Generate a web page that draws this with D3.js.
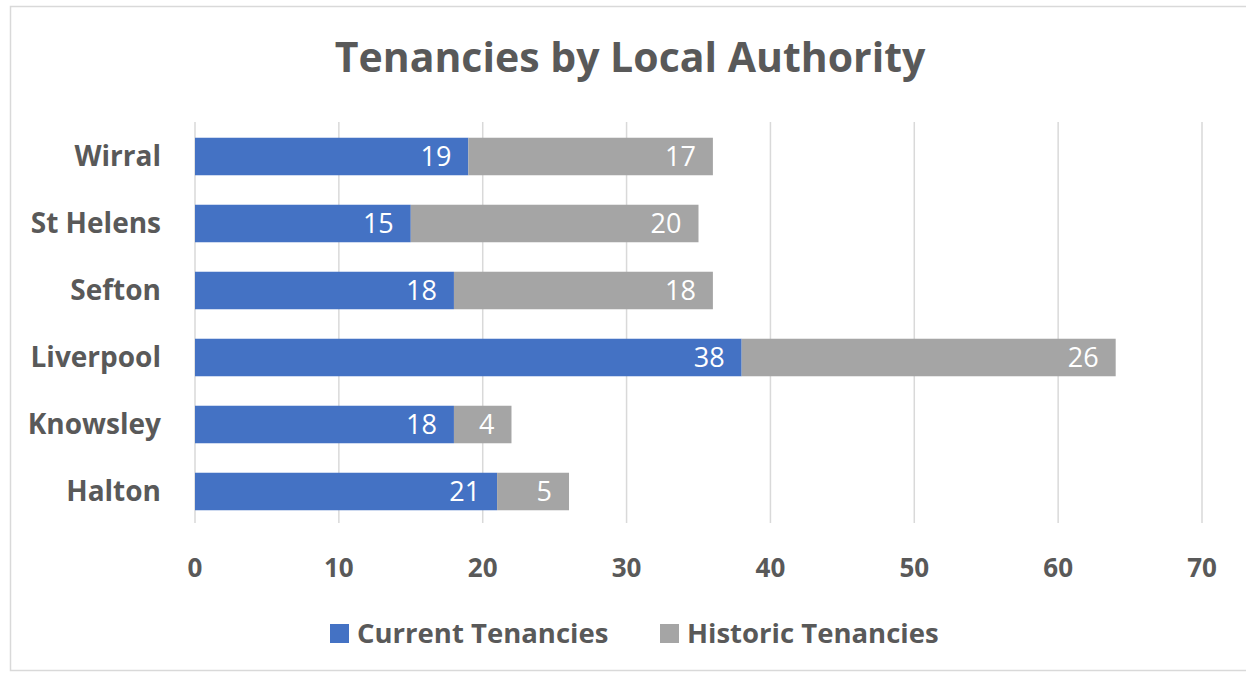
<!DOCTYPE html>
<html>
<head>
<meta charset="utf-8">
<script src="https://cdn.jsdelivr.net/npm/d3@7"></script>
<style>
  body { margin: 0; background: #fff; }
  text { font-family: "Open Sans", "Noto Sans", sans-serif; }
</style>
</head>
<body>
<svg id="chart"></svg>
<script>
const categories = ["Wirral", "St Helens", "Sefton", "Liverpool", "Knowsley", "Halton"];
const currentTenancies = [19, 15, 18, 38, 18, 21];
const historicTenancies = [17, 20, 18, 26, 4, 5];
const xTicks = [0, 10, 20, 30, 40, 50, 60, 70];
const seriesNames = ["Current Tenancies", "Historic Tenancies"];
const colors = ["#4472C4", "#A5A5A5"];

const width = 1246, height = 675;
const svg = d3.select("#chart").attr("width", width).attr("height", height);

// outer chart border
svg.append("rect")
    .attr("x", 10.5).attr("y", 6.5)
    .attr("width", 1250).attr("height", 664)
    .attr("fill", "#fff")
    .attr("stroke", "#d9d9d9")
    .attr("stroke-width", 1.5);

const x = d3.scaleLinear().domain([0, 70]).range([195, 1202]);
const y = d3.scaleBand().domain(categories).range([123.5, 524.5]).paddingInner(0.44).paddingOuter(0.2125);

const rows = categories.map((c, i) => ({ cat: c, values: [currentTenancies[i], historicTenancies[i]] }));

// Title
svg.append("text")
    .attr("x", 630).attr("y", 72)
    .attr("text-anchor", "middle")
    .attr("font-size", 41)
    .attr("font-weight", "bold")
    .attr("fill", "#595959")
    .text("Tenancies by Local Authority");

// gridlines
svg.append("g").selectAll("line")
    .data(xTicks)
    .enter().append("line")
    .attr("x1", d => x(d)).attr("x2", d => x(d))
    .attr("y1", 122).attr("y2", 523)
    .attr("stroke", "#d9d9d9")
    .attr("stroke-width", 1.5);

// x tick labels
svg.append("g").selectAll("text")
    .data(xTicks)
    .enter().append("text")
    .attr("x", d => x(d)).attr("y", 577)
    .attr("text-anchor", "middle")
    .attr("font-size", 26)
    .attr("font-weight", "bold")
    .attr("fill", "#595959")
    .text(d => d);

// category labels
svg.append("g").selectAll("text")
    .data(categories)
    .enter().append("text")
    .attr("x", 161)
    .attr("y", d => y(d) + y.bandwidth() / 2)
    .attr("dy", "0.35em")
    .attr("text-anchor", "end")
    .attr("font-size", 28)
    .attr("font-weight", "bold")
    .attr("fill", "#595959")
    .text(d => d);

// stacked bars
const stack = d3.stack().keys([0, 1]).value((d, k) => d.values[k]);
const layers = stack(rows);

layers.forEach((layer, k) => {
    const g = svg.append("g");
    g.selectAll("rect")
        .data(layer)
        .enter().append("rect")
        .attr("x", d => x(d[0]))
        .attr("y", d => y(d.data.cat))
        .attr("width", d => x(d[1]) - x(d[0]))
        .attr("height", y.bandwidth())
        .attr("fill", colors[k]);
    g.selectAll("text")
        .data(layer)
        .enter().append("text")
        .attr("x", d => x(d[1]) - 17)
        .attr("y", d => y(d.data.cat) + y.bandwidth() / 2)
        .attr("dy", "0.36em")
        .attr("text-anchor", "end")
        .attr("font-size", 27)
        .attr("fill", "#fff")
        .text(d => d[1] - d[0]);
});

// legend
const legendX = [330, 660];
const legend = svg.append("g").selectAll("g")
    .data(seriesNames)
    .enter().append("g")
    .attr("transform", (d, i) => `translate(${legendX[i]}, 624)`);
legend.append("rect")
    .attr("width", 19).attr("height", 19)
    .attr("fill", (d, i) => colors[i]);
legend.append("text")
    .attr("x", 27).attr("y", 19)
    .attr("font-size", 27.5)
    .attr("font-weight", "bold")
    .attr("fill", "#595959")
    .text(d => d);
</script>
</body>
</html>
